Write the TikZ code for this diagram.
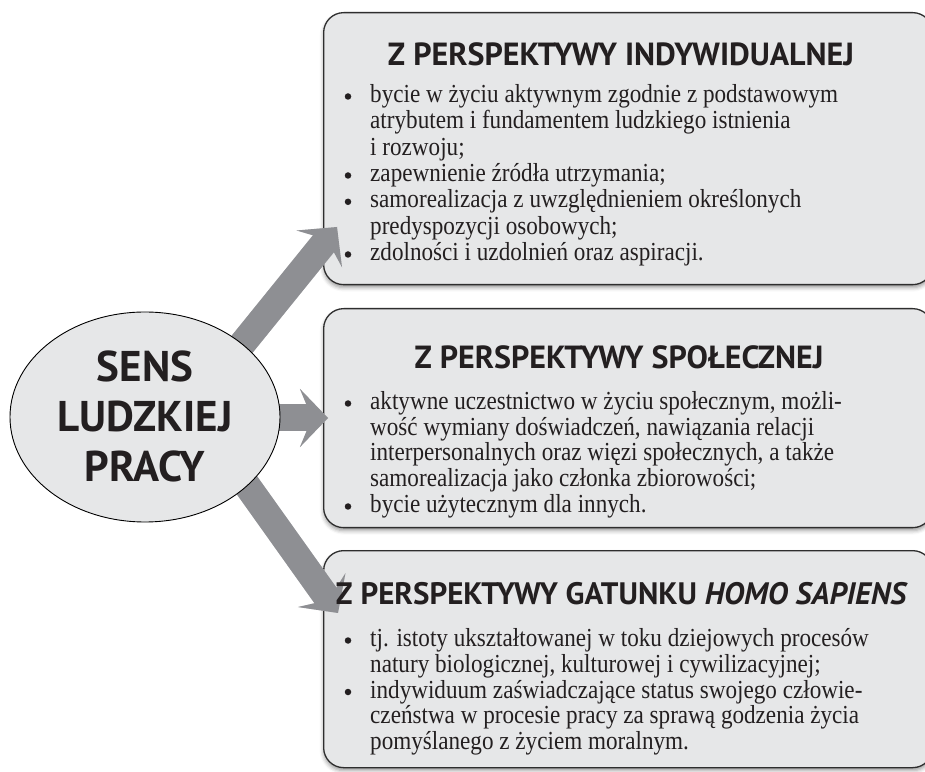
\documentclass[tikz,border=0pt]{standalone}
\usepackage{fontspec}
\setmainfont{Liberation Serif}
\newfontfamily\bodyfont{Liberation Serif}[FakeStretch=0.89]
\newfontfamily\headfont{PT Sans}
\usetikzlibrary{arrows.meta,shapes.geometric,shadows.blur}

\definecolor{panelfill}{HTML}{E6E7E8}
\definecolor{panelline}{HTML}{2E2E2E}
\definecolor{arrowgray}{HTML}{8E8F93}
\definecolor{arrowshade}{HTML}{D4D4D6}
\definecolor{inkcol}{HTML}{231F20}

\tikzset{
  panel/.style={rectangle, draw=panelline, fill=panelfill, line width=1.3pt,
    rounded corners=20pt, inner sep=0pt, anchor=north west, minimum width=609pt,
    blur shadow={shadow xshift=0pt, shadow yshift=-3pt, shadow blur radius=4pt, shadow opacity=40}},
  core/.style={ellipse, draw=black, fill=panelfill, line width=0.9pt, inner sep=0pt,
    minimum width=270pt, minimum height=210pt},
  coretext/.style={font=\headfont\bfseries\fontsize{43}{46}\selectfont, text=inkcol,
    anchor=base, inner sep=0pt},
  heading/.style={font=\headfont\bfseries\fontsize{32}{35}\selectfont, text=inkcol,
    anchor=base, inner sep=0pt},
  bodyline/.style={font=\bodyfont\fontsize{26}{28}\selectfont, text=inkcol,
    anchor=base west, inner sep=0pt},
  bulletdot/.style={circle, fill=inkcol, inner sep=0pt, minimum size=6.5pt},
  bigarrow/.style={draw=arrowgray, line width=27pt,
    -{Stealth[length=28pt, width=58pt, inset=12pt]}},
  arrowshadow/.style={bigarrow, draw=arrowshade, shift={(1.5pt,-2.5pt)}},
}

\begin{document}
\begin{tikzpicture}[x=1pt, y=1pt]
\useasboundingbox (0,0) rectangle (925,771);
\clip (0,0) rectangle (925,771);

% the three panels
\node[panel, minimum height=272pt] (p1) at (323,759) {};
\node[panel, minimum height=219pt] (p2) at (323,463) {};
\node[panel, minimum height=217pt] (p3) at (323,221) {};

% arrow ends
\coordinate (s1) at (198.6,373);
\coordinate (t1) at (337,544);
\coordinate (s2) at (200,353);
\coordinate (t2) at (328,353);
\coordinate (s3) at (203,347.4);
\coordinate (t3) at (338,158);

% arrows with a soft offset shade
\draw[arrowshadow] (s1) -- (t1);
\draw[arrowshadow] (s2) -- (t2);
\draw[arrowshadow] (s3) -- (t3);
\draw[bigarrow] (s1) -- (t1);
\draw[bigarrow] (s2) -- (t2);
\draw[bigarrow] (s3) -- (t3);

% central ellipse
\node[core] (core) at (145,354) {};
\node[coretext] (w1) at (145,389) {SENS};
\node[coretext] (w2) at (145,339) {LUDZKIEJ};
\node[coretext] (w3) at (145,289) {PRACY};

% headings
\node[heading] (h1) at (621,705) {Z PERSPEKTYWY INDYWIDUALNEJ};
\node[heading] (h2) at (619,402) {Z PERSPEKTYWY SPOŁECZNEJ};
\node[heading, font=\headfont\bfseries\fontsize{31}{34}\selectfont] (h3) at (622,167)
  {Z PERSPEKTYWY GATUNKU \textit{HOMO SAPIENS}};

% panel 1 body
\node[bodyline] (a1) at (370,668.5) {bycie w życiu aktywnym zgodnie z podstawowym};
\node[bodyline] (a2) at (370,642.2) {atrybutem i fundamentem ludzkiego istnienia};
\node[bodyline] (a3) at (370,615.8) {i rozwoju;};
\node[bodyline] (a4) at (370,589.5) {zapewnienie źródła utrzymania;};
\node[bodyline] (a5) at (370,563.2) {samorealizacja z uwzględnieniem określonych};
\node[bodyline] (a6) at (370,536.8) {predyspozycji osobowych;};
\node[bodyline] (a7) at (370,510.5) {zdolności i uzdolnień oraz aspiracji.};
\foreach \yy/\nm in {668.5/da1, 589.5/da4, 563.2/da5, 510.5/da7}
  \node[bulletdot] (\nm) at (348,\yy+6) {};

% panel 2 body
\node[bodyline] (b1) at (370,361.5) {aktywne uczestnictwo w życiu społecznym, możli-};
\node[bodyline] (b2) at (370,335.7) {wość wymiany doświadczeń, nawiązania relacji};
\node[bodyline] (b3) at (370,310) {interpersonalnych oraz więzi społecznych, a także};
\node[bodyline] (b4) at (370,284.2) {samorealizacja jako członka zbiorowości;};
\node[bodyline] (b5) at (370,258.5) {bycie użytecznym dla innych.};
\foreach \yy/\nm in {361.5/db1, 258.5/db5}
  \node[bulletdot] (\nm) at (348,\yy+6) {};

% panel 3 body
\node[bodyline] (c1) at (370,124.5) {tj. istoty ukształtowanej w toku dziejowych procesów};
\node[bodyline] (c2) at (370,98.7) {natury biologicznej, kulturowej i cywilizacyjnej;};
\node[bodyline] (c3) at (370,73) {indywiduum zaświadczające status swojego człowie-};
\node[bodyline] (c4) at (370,47.2) {czeństwa w procesie pracy za sprawą godzenia życia};
\node[bodyline] (c5) at (370,21.5) {pomyślanego z życiem moralnym.};
\foreach \yy/\nm in {124.5/dc1, 73/dc3}
  \node[bulletdot] (\nm) at (348,\yy+6) {};
\end{tikzpicture}
\end{document}
